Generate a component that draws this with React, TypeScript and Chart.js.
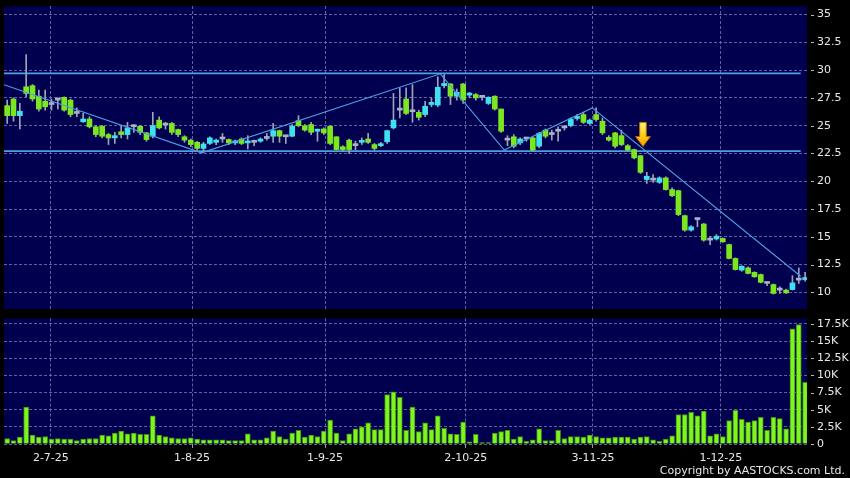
import React, { useEffect, useRef } from "react";
import { Chart, registerables } from "chart.js";
Chart.register(...registerables);

// ---- Data (index 0 = first trading day shown) ----
const OPEN = [
  26.8, 27.4, 25.9, 28.5, 28.6, 27.65, 27.2, 26.9, 27.3, 27.55,
  27.3, 26.1, 25.35, 25.6, 24.9, 24.95, 24.2, 23.9, 24.45, 24.2,
  24.9, 24.95, 24.35, 24.05, 25.5, 25.05, 25.2, 24.65, 24.0, 23.7,
  23.5, 22.95, 23.4, 23.5, 23.8, 23.75, 23.45, 23.8, 23.45, 23.5,
  23.6, 23.85, 24.05, 24.55, 24.0, 24.05, 25.45, 25.0, 25.1, 24.5,
  24.7, 24.95, 24.0, 23.1, 23.7, 23.2, 23.5, 23.8, 23.3, 23.2,
  23.55, 24.8, 26.4, 27.4, 26.25, 26.2, 26.0, 26.9, 26.85, 28.6,
  28.75, 27.65, 28.75, 27.75, 27.8, 27.55, 27.0, 27.65, 26.5, 23.7,
  24.0, 23.45, 23.8, 23.9, 23.15, 24.6, 24.2, 24.5, 24.8, 25.0,
  25.65, 26.0, 25.2, 26.0, 25.4, 23.95, 24.35, 24.1, 23.2, 22.85,
  22.3, 20.15, 20.1, 19.9, 20.3, 19.25, 19.15, 16.9, 15.6, 16.55,
  16.15, 14.7, 14.8, 14.85, 14.3, 13.05, 12.0, 12.2, 11.8, 11.6,
  10.8, 10.7, 10.2, 10.2, 10.25, 11.1, 11.15,
];
const HIGH = [
  27.3, 27.5, 27.0, 31.4, 28.7, 28.2, 28.2, 27.4, 27.5, 27.6,
  27.4, 26.6, 26.1, 25.8, 25.0, 25.0, 24.3, 24.4, 25.0, 25.3,
  25.1, 25.0, 24.4, 26.2, 25.8, 25.3, 25.3, 24.7, 24.1, 23.8,
  23.6, 23.5, 24.0, 23.8, 24.3, 23.8, 23.7, 23.9, 24.1, 23.7,
  23.9, 24.3, 25.2, 24.6, 24.1, 25.1, 25.9, 25.1, 25.3, 24.7,
  24.8, 25.0, 24.0, 23.2, 23.8, 23.6, 23.9, 24.3, 23.4, 23.5,
  24.6, 27.9, 28.4, 28.4, 28.7, 26.4, 27.2, 27.5, 29.4, 29.6,
  28.8, 28.3, 28.8, 28.0, 27.9, 27.7, 27.6, 27.7, 26.5, 24.1,
  24.2, 23.9, 23.9, 24.0, 24.4, 24.7, 24.6, 24.9, 25.0, 25.7,
  26.0, 26.2, 25.6, 26.6, 25.7, 24.1, 24.4, 24.6, 23.3, 22.9,
  22.3, 20.8, 20.6, 20.4, 20.4, 19.4, 19.2, 16.95, 16.0, 16.6,
  16.2, 15.0, 15.2, 14.9, 14.35, 13.1, 12.4, 12.3, 11.85, 11.65,
  10.9, 10.75, 10.5, 10.3, 11.5, 12.2, 11.8,
];
const LOW = [
  25.2, 25.4, 24.7, 27.6, 27.2, 26.3, 26.4, 26.4, 26.5, 26.3,
  25.8, 25.8, 25.3, 24.8, 24.0, 23.9, 23.3, 23.4, 23.9, 23.8,
  24.4, 24.2, 23.6, 23.9, 24.7, 24.7, 24.2, 24.0, 23.5, 23.1,
  22.8, 22.6, 23.3, 23.3, 23.5, 23.3, 23.3, 23.3, 22.9, 23.2,
  23.5, 23.7, 23.5, 23.5, 23.4, 24.0, 24.9, 24.5, 24.2, 23.6,
  24.2, 23.3, 22.8, 22.7, 22.5, 22.8, 23.3, 23.4, 22.8, 23.1,
  23.4, 24.7, 25.7, 26.0, 25.3, 25.5, 25.8, 26.7, 26.7, 28.4,
  26.9, 27.3, 27.0, 27.5, 27.3, 27.3, 26.9, 26.4, 24.4, 23.2,
  23.0, 23.3, 23.6, 22.7, 23.0, 23.9, 23.7, 23.6, 24.6, 24.9,
  25.5, 25.2, 25.1, 25.4, 24.2, 23.6, 23.0, 23.2, 22.7, 22.0,
  20.7, 19.8, 19.9, 19.8, 19.2, 18.6, 16.9, 15.5, 15.5, 15.9,
  14.6, 14.3, 14.7, 14.5, 13.0, 12.0, 11.9, 11.65, 11.35, 10.85,
  10.6, 9.85, 9.9, 9.9, 10.2, 10.8, 11.0,
];
const CLOSE = [
  25.9, 25.9, 26.3, 27.9, 27.4, 26.5, 26.7, 26.9, 27.3, 26.4,
  26.0, 26.1, 25.6, 24.9, 24.2, 24.05, 23.9, 24.1, 24.2, 24.8,
  24.9, 24.4, 23.75, 25.0, 24.8, 25.05, 24.4, 24.2, 23.7, 23.3,
  22.95, 23.35, 23.9, 23.7, 23.8, 23.45, 23.6, 23.4, 23.55, 23.5,
  23.8, 23.85, 24.55, 24.05, 24.0, 24.95, 25.0, 24.6, 24.4, 24.6,
  24.35, 23.4, 22.85, 22.85, 22.85, 23.2, 23.65, 23.5, 22.95, 23.35,
  24.55, 25.5, 26.4, 26.1, 26.25, 25.75, 26.75, 27.1, 28.45, 28.8,
  27.65, 28.0, 27.3, 27.85, 27.5, 27.55, 27.55, 26.5, 24.5, 23.7,
  23.15, 23.8, 23.8, 22.8, 24.3, 24.05, 24.2, 24.5, 24.8, 25.6,
  25.75, 25.3, 25.5, 25.55, 24.35, 23.7, 23.15, 23.3, 22.8, 22.1,
  20.8, 20.45, 20.1, 20.3, 19.25, 18.7, 17.0, 15.6, 15.9, 16.55,
  14.7, 14.7, 15.05, 14.55, 13.05, 12.05, 12.35, 11.7, 11.4, 10.9,
  10.8, 9.9, 10.2, 9.95, 10.85, 11.1, 11.3,
];
// volume in thousands
const VOLUME = [
  0.8, 0.5, 1.0, 5.4, 1.3, 1.0, 1.1, 0.7, 0.8, 0.7,
  0.7, 0.5, 0.7, 0.8, 0.8, 1.3, 1.2, 1.6, 1.9, 1.5,
  1.6, 1.4, 1.4, 4.1, 1.3, 1.1, 0.9, 0.8, 0.8, 0.9,
  0.7, 0.6, 0.6, 0.6, 0.6, 0.5, 0.5, 0.5, 1.5, 0.6,
  0.6, 0.9, 1.9, 1.1, 0.7, 1.6, 2.0, 1.0, 1.3, 1.1,
  1.9, 3.5, 1.6, 0.5, 1.5, 2.2, 2.5, 3.1, 2.1, 2.1,
  7.2, 7.6, 6.8, 2.0, 5.4, 1.8, 3.1, 2.1, 4.1, 2.3,
  1.5, 1.4, 3.2, 0.3, 1.4, 0.2, 0.2, 1.6, 1.8, 2.0,
  0.7, 1.1, 0.4, 0.6, 2.2, 0.5, 0.5, 2.0, 0.8, 1.1,
  1.1, 1.0, 1.3, 1.1, 0.9, 0.9, 1.0, 1.0, 1.0, 0.7,
  1.0, 1.1, 0.6, 0.4, 0.7, 1.2, 4.3, 4.3, 4.6, 4.1,
  4.8, 1.2, 1.5, 1.1, 3.4, 4.9, 3.6, 3.2, 3.4, 3.9,
  2.0, 3.9, 3.7, 2.2, 16.8, 17.4, 9.0,
];

const DATE_TICKS = [6.9, 29.2, 50.2, 72.4, 92.5, 112.7];
const DATE_LABELS = ["2-7-25", "1-8-25", "1-9-25", "2-10-25", "3-11-25", "1-12-25"];
const PRICE_TICKS = [10, 12.5, 15, 17.5, 20, 22.5, 25, 27.5, 30, 32.5, 35];
const VOLUME_TICKS = [0, 2.5, 5, 7.5, 10, 12.5, 15, 17.5];

const RESISTANCE = 29.7;
const SUPPORT = 22.7;
const H_LINE_RANGE = [-0.5, 125.3];
const TREND_X = [-0.5, 30.7, 68.4, 78.5, 92.4, 125.3];
const TREND_Y = [28.68, 22.55, 29.67, 22.8, 26.6, 11.45];
const ARROW_X = 100.4;
const ARROW_TOP = 25.3;
const ARROW_TIP = 23.13;

const PRICE_MIN = 8.5;
const PRICE_MAX = 35.77;
const VOL_MAX = 18.3;
const X_MIN = -0.5;
const X_MAX = 126.3;

// ---- Styles ----
const NAVY = "#00004e";
const GRID = "rgba(130,130,185,0.75)";
const GREEN = "#7be81f";
const CYAN = "#3fe1ef";
const DOJI = "#a9b3c7";
const WICK = "#9ea3b6";
const VOL_FILL = "#7ff51f";
const VOL_EDGE = "#3f8f12";
const LINE = "#4f9fe6";
const TEXT = "#e8e8e8";
const FONT = "DejaVu Sans";

const bgPlugin = {
  id: "plotBg",
  beforeDraw(chart: any) {
    const { ctx, chartArea: a } = chart;
    ctx.save();
    ctx.fillStyle = NAVY;
    ctx.fillRect(a.left, a.top, a.right - a.left, a.bottom - a.top);
    ctx.restore();
  },
};

const yTickMarks = {
  id: "yTickMarks",
  afterDraw(chart: any) {
    const { ctx } = chart;
    const ys = chart.scales.y;
    ctx.save();
    ctx.strokeStyle = "#b8b8b8";
    ctx.lineWidth = 1;
    ys.ticks.forEach((t: any) => {
      const y = Math.round(ys.getPixelForValue(t.value)) + 0.5;
      ctx.beginPath();
      ctx.moveTo(ys.left + 4, y);
      ctx.lineTo(ys.left + 7, y);
      ctx.stroke();
    });
    ctx.restore();
  },
};

const arrowPlugin = {
  id: "arrow",
  afterDatasetsDraw(chart: any) {
    const { ctx } = chart;
    const x = chart.scales.x.getPixelForValue(ARROW_X);
    const yTop = chart.scales.y.getPixelForValue(ARROW_TOP);
    const yTip = chart.scales.y.getPixelForValue(ARROW_TIP);
    const headH = 10;
    const shaftW = 3.3;
    const headW = 7.5;
    const g = ctx.createLinearGradient(0, yTop, 0, yTip);
    g.addColorStop(0, "#fff27a");
    g.addColorStop(0.5, "#ffd21a");
    g.addColorStop(1, "#ff9a00");
    ctx.save();
    ctx.beginPath();
    ctx.moveTo(x - shaftW, yTop);
    ctx.lineTo(x + shaftW, yTop);
    ctx.lineTo(x + shaftW, yTip - headH);
    ctx.lineTo(x + headW, yTip - headH);
    ctx.lineTo(x, yTip);
    ctx.lineTo(x - headW, yTip - headH);
    ctx.lineTo(x - shaftW, yTip - headH);
    ctx.closePath();
    ctx.fillStyle = g;
    ctx.fill();
    ctx.strokeStyle = "#b36a00";
    ctx.lineWidth = 1;
    ctx.stroke();
    ctx.restore();
  },
};

const noPad = (s: any) => {
  s.paddingTop = 0;
  s.paddingBottom = 0;
  s.paddingLeft = 0;
  s.paddingRight = 0;
};

const xGridScale = (showLabels: boolean, height: number) => ({
  type: "linear" as const,
  min: X_MIN,
  max: X_MAX,
  offset: false,
  afterBuildTicks: (s: any) => {
    s.ticks = DATE_TICKS.map((v) => ({ value: v }));
  },
  afterFit: (s: any) => {
    s.height = height;
    noPad(s);
  },
  grid: {
    offset: false,
    color: GRID,
    lineWidth: 1,
    drawTicks: showLabels,
    tickLength: 4,
    tickColor: "#9a9a9a",
    borderDash: [3, 2],
  },
  border: { display: false, dash: [3, 2] },
  ticks: {
    display: showLabels,
    autoSkip: false,
    maxRotation: 0,
    padding: 4,
    color: TEXT,
    font: { family: FONT, size: 11 },
    callback: (_v: any, i: number) => DATE_LABELS[i],
  },
});

export default function App() {
  const priceRef = useRef<HTMLCanvasElement>(null);
  const volRef = useRef<HTMLCanvasElement>(null);

  useEffect(() => {
    const idx = CLOSE.map((_, i) => i);
    const wickData = idx.map((i) => ({ x: i, y: [LOW[i], HIGH[i]] }));
    const bodyData = idx.map((i) => ({
      x: i,
      y: [Math.min(OPEN[i], CLOSE[i]), Math.max(OPEN[i], CLOSE[i])],
    }));
    const bodyColors = idx.map((i) =>
      CLOSE[i] > OPEN[i] ? CYAN : CLOSE[i] < OPEN[i] ? GREEN : DOJI
    );
    const trend = TREND_X.map((x, i) => ({ x, y: TREND_Y[i] }));
    const resist = H_LINE_RANGE.map((x) => ({ x, y: RESISTANCE }));
    const support = H_LINE_RANGE.map((x) => ({ x, y: SUPPORT }));

    const price = new Chart(priceRef.current as HTMLCanvasElement, {
      type: "bar",
      data: {
        datasets: [
          {
            type: "line",
            data: resist,
            borderColor: LINE,
            borderWidth: 1.8,
            pointRadius: 0,
            order: 3,
          } as any,
          {
            type: "line",
            data: support,
            borderColor: LINE,
            borderWidth: 1.8,
            pointRadius: 0,
            order: 3,
          } as any,
          {
            type: "bar",
            data: wickData,
            backgroundColor: WICK,
            barThickness: 1,
            grouped: false,
            minBarLength: 1,
            order: 2,
          } as any,
          {
            type: "bar",
            data: bodyData,
            backgroundColor: bodyColors,
            barThickness: 5,
            grouped: false,
            minBarLength: 2,
            order: 1,
          } as any,
          {
            type: "line",
            data: trend,
            borderColor: LINE,
            borderWidth: 1.1,
            pointRadius: 0,
            tension: 0,
            order: 0,
          } as any,
        ],
      },
      options: {
        animation: false,
        responsive: false,
        events: [],
        layout: { padding: { top: 6, bottom: 3, left: 4, right: 0 } },
        plugins: { legend: { display: false }, tooltip: { enabled: false } },
        scales: {
          x: xGridScale(false, 0) as any,
          y: {
            type: "linear",
            position: "right",
            min: PRICE_MIN,
            max: PRICE_MAX,
            beginAtZero: false,
            afterBuildTicks: (s: any) => {
              s.ticks = PRICE_TICKS.map((v) => ({ value: v }));
            },
            afterFit: (s: any) => {
              s.width = 43;
              noPad(s);
            },
            grid: { color: GRID, lineWidth: 1, drawTicks: false, borderDash: [3, 2] } as any,
            border: { display: false, dash: [3, 2] },
            ticks: {
              padding: 10,
              color: TEXT,
              font: { family: FONT, size: 11 },
              callback: (v: any) => String(v),
            },
          },
        },
      },
      plugins: [bgPlugin, yTickMarks, arrowPlugin],
    });

    const vol = new Chart(volRef.current as HTMLCanvasElement, {
      type: "bar",
      data: {
        datasets: [
          {
            data: idx.map((i) => ({ x: i, y: VOLUME[i] })),
            backgroundColor: VOL_FILL,
            borderColor: VOL_EDGE,
            borderWidth: 1,
            barThickness: 5,
            grouped: false,
          } as any,
        ],
      },
      options: {
        animation: false,
        responsive: false,
        events: [],
        layout: { padding: { top: 8.5, bottom: 0, left: 4, right: 0 } },
        plugins: { legend: { display: false }, tooltip: { enabled: false } },
        scales: {
          x: xGridScale(true, 34) as any,
          y: {
            type: "linear",
            position: "right",
            min: 0,
            max: VOL_MAX,
            beginAtZero: false,
            afterBuildTicks: (s: any) => {
              s.ticks = VOLUME_TICKS.map((v) => ({ value: v }));
            },
            afterFit: (s: any) => {
              s.width = 43;
              noPad(s);
            },
            grid: { color: GRID, lineWidth: 1, drawTicks: false, borderDash: [3, 2] } as any,
            border: { display: false, dash: [3, 2] },
            ticks: {
              padding: 10,
              color: TEXT,
              font: { family: FONT, size: 11 },
              callback: (v: any) => (v === 0 ? "0" : v + "K"),
            },
          },
        },
      },
      plugins: [bgPlugin, yTickMarks],
    });

    return () => {
      price.destroy();
      vol.destroy();
    };
  }, []);

  return (
    <div
      style={{
        position: "fixed",
        left: 0,
        top: 0,
        width: 850,
        height: 478,
        background: "#000",
        overflow: "hidden",
      }}
    >
      <canvas
        ref={priceRef}
        width={850}
        height={312}
        style={{ position: "absolute", left: 0, top: 0, display: "block" }}
      />
      <canvas
        ref={volRef}
        width={850}
        height={168}
        style={{ position: "absolute", left: 0, top: 310, display: "block" }}
      />
      <div
        style={{
          position: "absolute",
          right: 5,
          top: 464,
          fontFamily: FONT,
          fontSize: 11,
          lineHeight: "14px",
          color: TEXT,
          whiteSpace: "nowrap",
        }}
      >
        Copyright by AASTOCKS.com Ltd.
      </div>
    </div>
  );
}
